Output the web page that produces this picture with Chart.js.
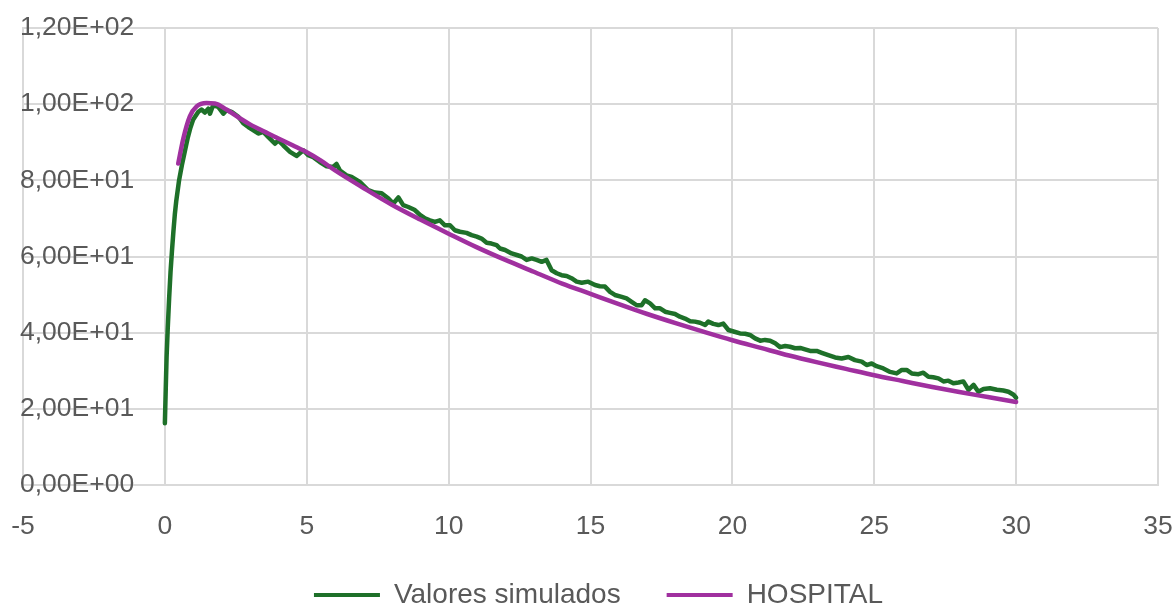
<!DOCTYPE html>
<html>
<head>
<meta charset="utf-8">
<script src="https://cdn.jsdelivr.net/npm/chart.js@4/dist/chart.umd.min.js"></script>
<style>
  html, body { margin: 0; padding: 0; background: #ffffff; }
  #wrap { width: 1176px; height: 606px; position: relative; }
</style>
</head>
<body>
<div id="wrap"><canvas id="c" width="1176" height="606"></canvas></div>
<script>
const seriesNames = ["Valores simulados", "HOSPITAL"];

const greenX = [
  0, 0.03, 0.06, 0.1, 0.15, 0.2, 0.25, 0.3, 0.35, 0.4, 0.5, 0.6, 0.7, 0.8, 0.9, 1.0,
  1.18, 1.29, 1.41, 1.53, 1.59, 1.70, 1.88, 2.06, 2.17, 2.35, 2.59, 2.76, 2.94, 3.11, 3.29, 3.47, 3.64, 3.88, 4.00, 4.17, 4.41, 4.64, 4.88, 5.05, 5.23, 5.46, 5.70, 5.93, 6.05, 6.17, 6.40, 6.58, 6.87, 7.17,
  7.40, 7.64, 7.87, 8.05, 8.23, 8.40, 8.58, 8.81, 8.99, 9.17, 9.34, 9.52, 9.69, 9.87, 10.05, 10.22, 10.40, 10.63, 10.81, 10.99, 11.16, 11.34, 11.51, 11.69, 11.81, 11.99, 12.22, 12.40, 12.57, 12.75, 12.93, 13.10, 13.28, 13.45, 13.63, 13.81, 13.98, 14.16, 14.33, 14.51, 14.69, 14.92, 15.16,
  15.33, 15.51, 15.69, 15.86, 16.10, 16.27, 16.45, 16.63, 16.80, 16.92, 17.10, 17.28, 17.45, 17.63, 17.80, 17.98, 18.15, 18.33, 18.51, 18.68, 18.86, 19.04, 19.15, 19.33, 19.51, 19.68, 19.86, 20.04, 20.27, 20.45, 20.62, 20.80, 20.98, 21.15, 21.33, 21.51, 21.68, 21.86, 22.03, 22.21, 22.39,
  22.56, 22.74, 22.97, 23.15, 23.38, 23.62, 23.85, 24.09, 24.32, 24.56, 24.73, 24.91, 25.08, 25.32, 25.56, 25.79, 25.97, 26.14, 26.32, 26.56, 26.73, 26.91, 27.08, 27.26, 27.44, 27.61, 27.79, 27.97, 28.14, 28.32, 28.50, 28.67, 28.85, 29.08, 29.32, 29.55, 29.73, 29.91, 30.0
];
const greenY = [
  16.2, 25, 33.5, 41, 49, 56, 61.5, 66.5, 71, 74.5, 80, 84, 87.5, 91, 93.8, 96.0,
  98, 98.6, 97.8, 98.8, 97.5, 99.7, 99.3, 97.5, 98.4, 98, 96.7, 95, 94, 93.2, 92.3, 92.7, 91.4, 89.6, 90.5, 89.2, 87.5, 86.4, 87.9, 86.6, 86.1, 84.8, 83.7, 83.5, 84.3, 82.6, 81.3, 80.9, 79.6, 77.4,
  76.8, 76.6, 75.3, 73.9, 75.5, 73.5, 73.0, 72.2, 70.9, 70.0, 69.5, 69.1, 69.5, 68.2, 68.2, 66.9, 66.5, 66.2, 65.6, 65.2, 64.7, 63.6, 63.4, 63.0, 62.1, 61.7, 60.8, 60.4, 60.0, 59.1, 59.5, 59.1, 58.6, 59.1, 56.4, 55.6, 55.1, 54.9, 54.3, 53.4, 53.1, 53.4, 52.5,
  52.2, 52.1, 50.7, 49.9, 49.4, 49.0, 48.1, 47.2, 47.2, 48.5, 47.7, 46.4, 46.4, 45.5, 45.2, 44.9, 44.2, 43.7, 43.0, 42.9, 42.6, 42.0, 42.9, 42.3, 42.0, 42.4, 40.7, 40.3, 39.8, 39.7, 39.4, 38.5, 37.9, 38.1, 37.9, 37.2, 36.2, 36.5, 36.3, 35.9, 36.0,
  35.6, 35.2, 35.2, 34.7, 34.1, 33.5, 33.2, 33.6, 32.8, 32.4, 31.5, 31.9, 31.2, 30.6, 29.7, 29.3, 30.2, 30.2, 29.3, 29.1, 29.5, 28.4, 28.3, 28.0, 27.2, 27.4, 26.7, 26.9, 27.2, 25.0, 26.3, 24.5, 25.2, 25.4, 25.0, 24.8, 24.5, 23.7, 22.9
];

const hospitalX = [0.47, 0.65, 0.88, 1.12, 1.47, 1.76, 2.17, 2.64, 3, 3.5, 4, 4.5, 5, 5.5, 6, 7, 8, 9, 10, 11, 12, 13, 14, 15, 16, 17, 18, 19, 20, 21, 22, 23, 24, 25, 26, 27, 28, 29, 30];
const hospitalY = [84.4, 91.0, 96.8, 99.4, 100.3, 100.2, 98.6, 96.3, 94.7, 92.8, 91.0, 89.2, 87.4, 85.2, 82.6, 78.0, 73.6, 69.7, 66.0, 62.4, 59.1, 56.0, 52.9, 50.2, 47.5, 44.9, 42.5, 40.2, 38.0, 36.0, 34.0, 32.2, 30.5, 28.8, 27.3, 25.8, 24.4, 23.1, 21.8];

const xMin = -5, xMax = 35, xStep = 5;
const yMin = 0, yMax = 120, yStep = 20;

const GREEN = '#1e7029';
const PURPLE = '#a0309f';
const GRID = '#d9d9d9';
const TEXT = '#595959';

function sciLabel(v) {
  if (v === 0) return '0,00E+00';
  const exp = Math.floor(Math.log10(Math.abs(v)) + 1e-9);
  const mant = v / Math.pow(10, exp);
  const e = (exp < 0 ? '-' : '+') + String(Math.abs(exp)).padStart(2, '0');
  return mant.toFixed(2).replace('.', ',') + 'E' + e;
}

const greenData = greenX.map((x, i) => ({x: x, y: greenY[i]}));
const hospData = hospitalX.map((x, i) => ({x: x, y: hospitalY[i]}));

const legendShift = {
  id: 'legendShift',
  afterLayout(chart) {
    if (chart.legend) { chart.legend.left += 8; chart.legend.right += 8; }
  }
};

new Chart(document.getElementById('c'), {
  type: 'scatter',
  plugins: [legendShift],
  data: {
    datasets: [
      {
        label: seriesNames[0],
        data: greenData,
        showLine: true,
        borderColor: GREEN,
        backgroundColor: GREEN,
        borderWidth: 4.5,
        pointRadius: 0,
        tension: 0,
        borderJoinStyle: 'round',
        borderCapStyle: 'round',
        order: 1
      },
      {
        label: seriesNames[1],
        data: hospData,
        showLine: true,
        borderColor: PURPLE,
        backgroundColor: PURPLE,
        borderWidth: 4.5,
        pointRadius: 0,
        cubicInterpolationMode: 'monotone',
        borderJoinStyle: 'round',
        borderCapStyle: 'round',
        order: 0
      }
    ]
  },
  options: {
    responsive: false,
    animation: false,
    devicePixelRatio: 1,
    layout: { padding: { left: 23, right: 18, top: 28, bottom: -13 } },
    plugins: {
      tooltip: { enabled: false },
      legend: {
        display: true,
        position: 'bottom',
        labels: {
          boxWidth: 66,
          boxHeight: 4,
          padding: 46,
          color: TEXT,
          font: { family: 'Liberation Sans', size: 28 },
          sort: (a, b) => a.datasetIndex - b.datasetIndex,
          generateLabels: (chart) => {
            const items = Chart.defaults.plugins.legend.labels.generateLabels(chart);
            items.forEach(it => { it.lineWidth = 0; it.strokeStyle = 'rgba(0,0,0,0)'; });
            return items;
          }
        }
      }
    },
    scales: {
      x: {
        type: 'linear',
        min: xMin, max: xMax,
        border: { display: true, color: GRID, width: 2 },
        grid: { color: GRID, lineWidth: 2, drawTicks: true, tickLength: 26, tickColor: 'rgba(0,0,0,0)' },
        ticks: {
          stepSize: xStep,
          padding: 0,
          color: TEXT,
          font: { family: 'Liberation Sans', size: 26.5 },
          callback: (v) => String(v)
        },
        afterFit: (s) => { s.height = 50; }
      },
      y: {
        type: 'linear',
        min: yMin, max: yMax,
        border: { display: true, color: GRID, width: 2 },
        grid: { color: GRID, lineWidth: 2, drawTicks: false },
        ticks: {
          stepSize: yStep,
          mirror: true,
          padding: -3,
          color: TEXT,
          font: { family: 'Liberation Sans', size: 26.5 },
          callback: (v) => sciLabel(v)
        },
        afterFit: (s) => { s.width = 0; }
      }
    }
  }
});
</script>
</body>
</html>
